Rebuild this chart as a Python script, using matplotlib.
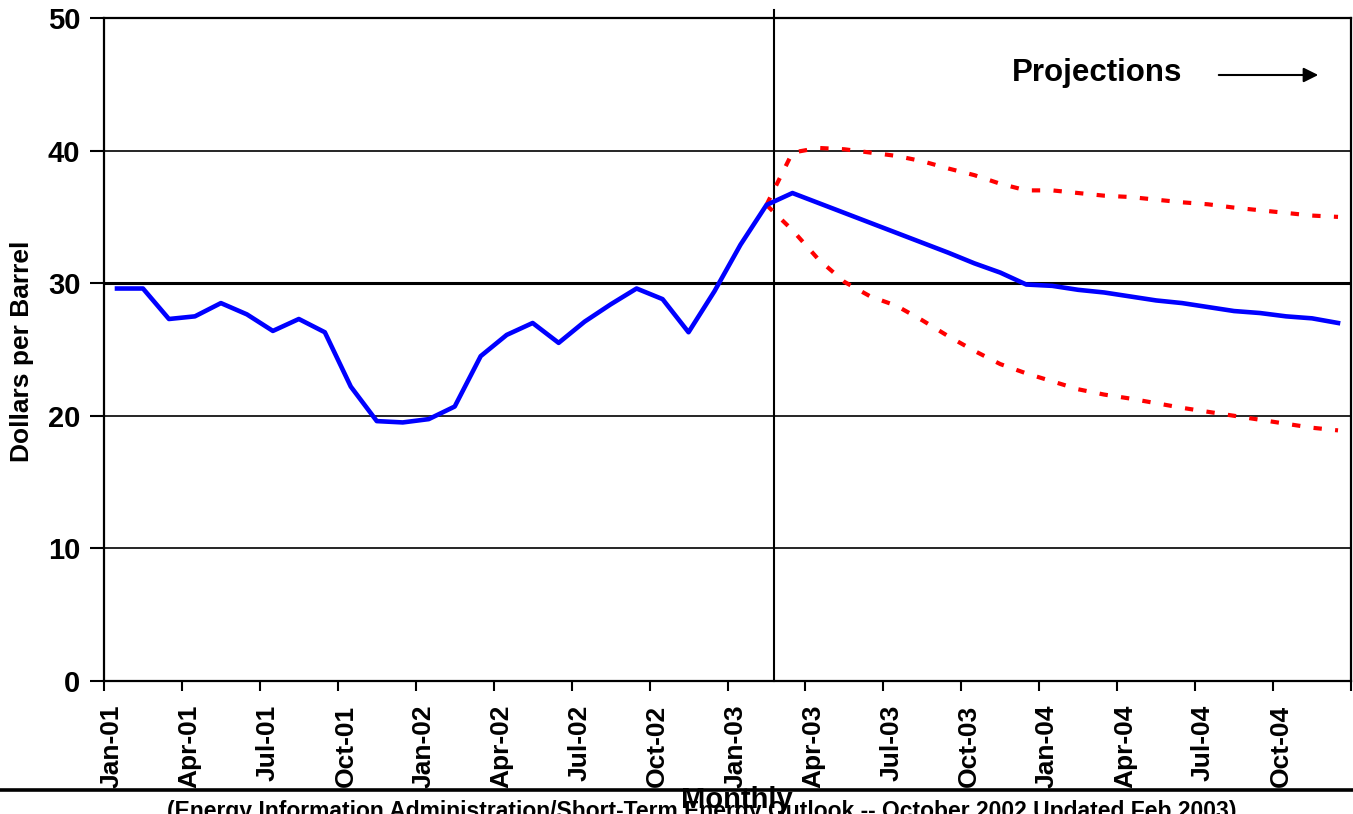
import matplotlib
matplotlib.use('Agg')
import matplotlib.pyplot as plt
import numpy as np
from matplotlib.lines import Line2D

plt.rcParams['font.family'] = ['Liberation Sans', 'DejaVu Sans']
plt.rcParams['font.weight'] = 'bold'

tick_labels = ['Jan-01', 'Apr-01', 'Jul-01', 'Oct-01', 'Jan-02', 'Apr-02', 'Jul-02', 'Oct-02',
               'Jan-03', 'Apr-03', 'Jul-03', 'Oct-03', 'Jan-04', 'Apr-04', 'Jul-04', 'Oct-04']

price = [29.6, 29.6, 27.3, 27.5, 28.5, 27.65, 26.4, 27.3, 26.3, 22.2,
         19.6, 19.5, 19.75, 20.7, 24.5, 26.1, 27.0, 25.5, 27.1, 28.4,
         29.6, 28.8, 26.3, 29.4, 32.9, 35.9, 36.8, 36.05, 35.3, 34.55,
         33.8, 33.05, 32.3, 31.5, 30.8, 29.9, 29.8, 29.5, 29.3, 29.0,
         28.7, 28.5, 28.2, 27.9, 27.75, 27.5, 27.35, 27.0]

proj_start = 25
upper = [35.9, 39.85, 40.2, 40.1, 39.85, 39.6, 39.2, 38.65, 38.15, 37.5,
         37.0, 37.0, 36.8, 36.6, 36.5, 36.3, 36.1, 35.95, 35.7, 35.5,
         35.3, 35.1, 35.0]
lower = [35.9, 34.0, 31.8, 30.1, 29.0, 28.3, 27.2, 26.0, 24.9, 23.9,
         23.2, 22.6, 22.0, 21.6, 21.3, 20.95, 20.6, 20.3, 20.0, 19.7,
         19.4, 19.1, 18.9]
proj_line_x = 25.78

W, H = 1353, 814
fig = plt.figure(figsize=(W / 100, H / 100), dpi=100)
ax = fig.add_axes([104 / W, 1 - 681 / H, (1351 - 104) / W, (681 - 18) / H])

x = np.arange(len(price)) + 0.5
xp = x[proj_start:]
ax.plot(xp, upper, color='#FF0000', lw=3, ls=(0, (2, 3.2)), zorder=3)
ax.plot(xp, lower, color='#FF0000', lw=3, ls=(0, (2, 3.2)), zorder=3)
ax.plot(x, price, color='#0000FF', lw=3.3, zorder=4)

ax.set_xlim(0, 48)
ax.set_ylim(0, 50)
ax.set_yticks([0, 10, 20, 30, 40, 50])
ax.yaxis.grid(True, color='black', lw=1.2)
ax.set_axisbelow(True)
ax.axhline(30, color='black', lw=2.2, zorder=2)
ax.axvline(proj_line_x, ymin=0, ymax=50.6 / 50, color='black', lw=1.5, clip_on=False, zorder=2)

for s in ['left', 'bottom', 'right', 'top']:
    ax.spines[s].set_linewidth(1.6)
    ax.spines[s].set_color('black')

ax.set_xticks(np.arange(0, 49, 3))
ax.set_xticklabels([])
ax.set_xticks(np.arange(0, 48, 3) + 0.3, minor=True)
ax.set_xticklabels(tick_labels, minor=True, rotation=90, fontsize=19, fontweight='bold')
ax.tick_params(axis='x', which='minor', length=0, pad=17)
ax.tick_params(axis='x', which='major', length=7, width=1.5, direction='out')
ax.tick_params(axis='y', length=10, width=1.5, labelsize=21, pad=7)
for t in ax.get_yticklabels():
    t.set_fontweight('bold')

fig.text(22 / W, 1 - 351 / H, 'Dollars per Barrel', rotation=90, ha='center', va='center',
         fontsize=19, fontweight='bold')

fig.text(1097 / W, 1 - 73 / H, 'Projections', ha='center', va='center', fontsize=22.5, fontweight='bold')
ax.annotate('', xy=(1321 / W, 1 - 75 / H), xytext=(1216 / W, 1 - 75 / H),
            xycoords='figure fraction', textcoords='figure fraction',
            arrowprops=dict(arrowstyle='-|>', color='black', lw=1.5, mutation_scale=22))

fig.add_artist(Line2D([0, 1], [1 - 790 / H] * 2, transform=fig.transFigure, color='black', lw=2.6))

fig.text(702 / W, 1 - 818 / H,
         '(Energy Information Administration/Short-Term Energy Outlook -- October 2002 Updated Feb 2003)',
         ha='center', va='baseline', fontsize=16.5, fontweight='bold')
fig.text(737 / W, 1 - 808 / H, 'Monthly', ha='center', va='baseline', fontsize=21, fontweight='bold')

fig.savefig('out.png', dpi=100)
